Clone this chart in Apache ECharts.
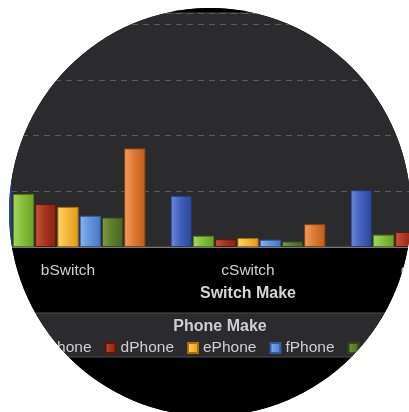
<!DOCTYPE html>
<html>
<head>
<meta charset="utf-8">
<script src="https://cdn.jsdelivr.net/npm/echarts@6/dist/echarts.min.js"></script>
<style>
html,body{margin:0;padding:0;background:#fff;width:409px;height:412px;overflow:hidden;}
#wrap{position:absolute;left:0;top:0;width:409px;height:412px;overflow:hidden;background:#000;
clip-path:ellipse(201px 204px at 210px 212px);}
#chart{position:absolute;left:-112px;top:0;width:664px;height:412px;}
</style>
</head>
<body>
<div id="wrap"><div id="chart"></div></div>
<script>
const categories = ['bSwitch', 'cSwitch', 'dSwitch'];
const seriesNames = ['bPhone', 'cPhone', 'dPhone', 'ePhone', 'fPhone', 'gPhone', 'hPhone'];
const bPhone = [13.0, 9.2, 10.2];
const cPhone = [9.5, 2.0, 2.2];
const dPhone = [7.7, 1.4, 2.7];
const ePhone = [7.2, 1.6, 2.0];
const fPhone = [5.6, 1.3, 1.5];
const gPhone = [5.3, 1.0, 1.2];
const hPhone = [17.7, 4.1, 5.0];
const seriesValues = [bPhone, cPhone, dPhone, ePhone, fPhone, gPhone, hPhone];
const yTicks = {min: 0, max: 42, interval: 10};

const palette = [
  ['#7189d6', '#4262bf', '#2c4796', '#22397a'],
  ['#a9d662', '#86bf3a', '#69a128', '#4f7d1c'],
  ['#c8563e', '#a73520', '#86230f', '#5e1608'],
  ['#ffd468', '#f8b83a', '#df9a1c', '#a86e10'],
  ['#8ab6ee', '#6196de', '#4779c6', '#34589a'],
  ['#7d9c48', '#5f7f2f', '#48651f', '#33481a'],
  ['#f0a060', '#de7a32', '#bd5d1b', '#8a4212']
];

function grad(c) {
  return new echarts.graphic.LinearGradient(0, 0, 1, 0, [
    {offset: 0, color: c[0]},
    {offset: 0.45, color: c[1]},
    {offset: 1, color: c[2]}
  ]);
}

const chart = echarts.init(document.getElementById('chart'), null, {renderer: 'canvas'});
const font = 'Liberation Sans, Arial, Helvetica, sans-serif';

const option = {
  backgroundColor: '#000',
  animation: false,
  textStyle: {fontFamily: font},
  color: palette.map(p => p[1]),
  title: {
    text: 'Phone Make',
    left: 'center',
    top: 319,
    padding: 0,
    textStyle: {color: '#cfcfcf', fontSize: 16, fontWeight: 'bold', fontFamily: font}
  },
  legend: {
    data: seriesNames,
    left: 'center',
    top: 340,
    padding: 0,
    itemWidth: 10,
    itemHeight: 10,
    itemGap: 13,
    icon: 'rect',
    textStyle: {color: '#d0d0d0', fontSize: 15.5, fontFamily: font}
  },
  graphic: [{
    type: 'rect',
    z: -1,
    shape: {x: -5, y: 313, width: 680, height: 44},
    style: {fill: '#2b2b2d', stroke: '#4e4e50', lineWidth: 1}
  }],
  grid: {
    left: 90,
    right: 34,
    top: 13,
    bottom: 165,
    show: true,
    backgroundColor: '#2b2b2d',
    borderColor: '#4e4e50',
    borderWidth: 1
  },
  xAxis: {
    type: 'category',
    data: categories,
    name: 'Switch Make',
    nameLocation: 'middle',
    nameGap: 39,
    nameTextStyle: {color: '#d6d6d6', fontSize: 16, fontWeight: 'bold', fontFamily: font},
    axisLine: {lineStyle: {color: '#7a7a7a', width: 1}},
    axisTick: {alignWithLabel: true, length: 9, lineStyle: {color: '#8a8a8a'}},
    axisLabel: {color: '#d0d0d0', fontSize: 15.5, margin: 16, fontFamily: font}
  },
  yAxis: {
    type: 'value',
    min: yTicks.min,
    max: yTicks.max,
    interval: yTicks.interval,
    axisLabel: {show: false},
    axisLine: {show: false},
    axisTick: {show: false},
    splitLine: {lineStyle: {color: '#5c5c5e', type: [6, 5], width: 1}}
  },
  series: seriesNames.map((name, i) => ({
    name: name,
    type: 'bar',
    data: seriesValues[i],
    barCategoryGap: '14%',
    barGap: '5%',
    itemStyle: {
      color: grad(palette[i]),
      borderColor: palette[i][3],
      borderWidth: 1
    }
  }))
};
chart.setOption(option);
</script>
</body>
</html>
